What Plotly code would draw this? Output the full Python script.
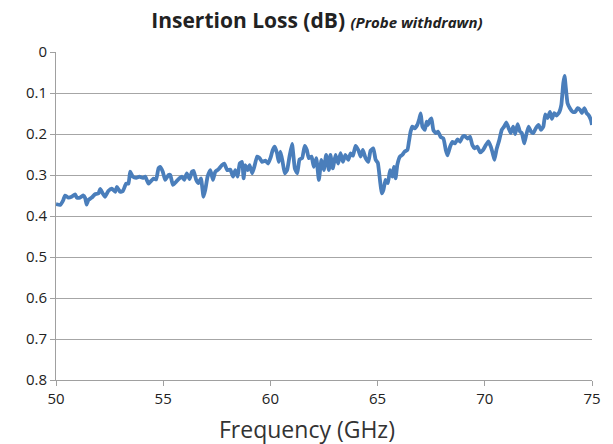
import plotly.graph_objects as go

freq_ghz = [
    50.00, 50.19, 50.34, 50.42, 50.57, 50.73, 50.89, 50.97, 51.12, 51.28, 51.36, 51.43, 51.51, 51.67,
    51.82, 51.98, 52.06, 52.18, 52.29, 52.44, 52.60, 52.76, 52.84, 52.99, 53.12, 53.27, 53.38, 53.46,
    53.58, 53.74, 53.89, 54.05, 54.16, 54.31, 54.39, 54.55, 54.67, 54.78,
    54.86, 54.98, 55.09, 55.25, 55.33, 55.45, 55.61, 55.76, 55.87, 55.98, 56.10, 56.23, 56.34, 56.42,
    56.54, 56.65, 56.76, 56.88, 56.96, 57.07, 57.20, 57.32, 57.43, 57.58, 57.74, 57.85, 57.98, 58.13,
    58.26, 58.36, 58.47, 58.57, 58.68, 58.75, 58.83, 58.94, 59.03, 59.15, 59.25, 59.38, 59.50, 59.61,
    59.77, 59.89, 60.00, 60.11, 60.20, 60.31, 60.39, 60.47, 60.57, 60.67, 60.78, 60.89, 61.01, 61.14,
    61.25, 61.36, 61.48, 61.60, 61.70, 61.79, 61.92, 62.02, 62.14, 62.26, 62.38, 62.49, 62.60, 62.73,
    62.80, 62.91, 63.04, 63.16, 63.27, 63.38, 63.50, 63.63, 63.74, 63.85, 63.97, 64.10, 64.21, 64.31,
    64.44, 64.57, 64.67, 64.80, 64.91, 65.01, 65.11, 65.19, 65.27, 65.37, 65.48, 65.58, 65.69, 65.76,
    65.84, 65.92, 66.04, 66.15, 66.26, 66.39, 66.46, 66.54, 66.62, 66.73, 66.85, 66.95, 67.01, 67.09,
    67.20, 67.29, 67.35, 67.44, 67.51, 67.60, 67.71, 67.82, 67.94, 68.07, 68.18, 68.26, 68.38, 68.49,
    68.60, 68.73, 68.85, 68.96, 69.07, 69.19, 69.31, 69.42, 69.53, 69.66, 69.78, 69.92, 70.05, 70.17,
    70.28, 70.39, 70.45, 70.55, 70.67, 70.79, 70.90, 71.01, 71.11, 71.21, 71.32, 71.42, 71.53, 71.64,
    71.73, 71.84, 71.92, 72.04, 72.15, 72.26, 72.38, 72.51, 72.62, 72.73, 72.82, 72.93, 73.04, 73.13,
    73.24, 73.35, 73.48, 73.57, 73.66, 73.72, 73.78, 73.86, 73.97, 74.10, 74.22, 74.33, 74.44, 74.53,
    74.64, 74.75, 74.84, 74.95, 75.00,
]

insertion_loss_db = [
    0.371, 0.373, 0.361, 0.350, 0.355, 0.353, 0.347, 0.355, 0.355, 0.350, 0.356, 0.372, 0.361, 0.355,
    0.347, 0.345, 0.334, 0.345, 0.353, 0.339, 0.333, 0.341, 0.329, 0.341, 0.339, 0.321, 0.321, 0.292,
    0.304, 0.307, 0.304, 0.307, 0.304, 0.321, 0.317, 0.309, 0.311, 0.284,
    0.280, 0.292, 0.312, 0.300, 0.300, 0.324, 0.316, 0.308, 0.304, 0.312, 0.296, 0.310, 0.292, 0.290,
    0.312, 0.320, 0.308, 0.353, 0.337, 0.304, 0.288, 0.312, 0.292, 0.286, 0.276, 0.272, 0.288, 0.287,
    0.304, 0.288, 0.304, 0.272, 0.268, 0.308, 0.276, 0.288, 0.276, 0.296, 0.280, 0.255, 0.259, 0.268,
    0.265, 0.272, 0.259, 0.239, 0.231, 0.247, 0.268, 0.243, 0.268, 0.296, 0.288, 0.255, 0.224, 0.284,
    0.296, 0.262, 0.259, 0.229, 0.239, 0.259, 0.255, 0.280, 0.259, 0.312, 0.263, 0.288, 0.251, 0.288,
    0.251, 0.284, 0.251, 0.272, 0.247, 0.268, 0.251, 0.263, 0.247, 0.253, 0.229, 0.239, 0.255, 0.239,
    0.259, 0.268, 0.241, 0.235, 0.263, 0.270, 0.312, 0.345, 0.337, 0.312, 0.320, 0.288, 0.304, 0.280,
    0.308, 0.275, 0.255, 0.251, 0.243, 0.239, 0.219, 0.194, 0.182, 0.186, 0.178, 0.162, 0.150, 0.182,
    0.190, 0.170, 0.178, 0.166, 0.162, 0.190, 0.198, 0.194, 0.207, 0.211, 0.239, 0.252, 0.231, 0.219,
    0.223, 0.213, 0.219, 0.207, 0.205, 0.211, 0.207, 0.227, 0.235, 0.231, 0.245, 0.239, 0.227, 0.218,
    0.231, 0.251, 0.263, 0.237, 0.216, 0.190, 0.182, 0.172, 0.186, 0.198, 0.182, 0.200, 0.176, 0.194,
    0.198, 0.223, 0.205, 0.182, 0.194, 0.198, 0.186, 0.178, 0.190, 0.182, 0.152, 0.161, 0.146, 0.163,
    0.149, 0.155, 0.146, 0.129, 0.076, 0.058, 0.088, 0.125, 0.137, 0.146, 0.146, 0.137, 0.141, 0.149,
    0.137, 0.149, 0.154, 0.166, 0.178,
]

x_ticks = [50, 55, 60, 65, 70, 75]
y_ticks = [0, 0.1, 0.2, 0.3, 0.4, 0.5, 0.6, 0.7, 0.8]
y_tick_labels = ["0", "0.1", "0.2", "0.3", "0.4", "0.5", "0.6", "0.7", "0.8"]

fig = go.Figure()
fig.add_trace(go.Scatter(
    x=freq_ghz, y=insertion_loss_db, mode="lines",
    line=dict(color="#4a7ebb", width=3.8, shape="spline", smoothing=0.4),
    showlegend=False, hoverinfo="x+y",
))

font_family = "Open Sans, Noto Sans, sans-serif"
fig.update_layout(
    width=613, height=444,
    margin=dict(l=56, r=21, t=52, b=64),
    paper_bgcolor="white", plot_bgcolor="white",
    font=dict(family=font_family, color="#222222", size=15),
    title=dict(
        text="<b>Insertion Loss (dB)</b> <b><i><span style='font-size:15px'>(Probe withdrawn)</span></i></b>",
        x=0.517, xanchor="center", y=0.953, yanchor="middle",
        font=dict(family=font_family, size=21, color="#222222"),
    ),
    xaxis=dict(
        range=[50, 75], tickvals=x_ticks, ticks="outside", ticklen=5, tickcolor="#a0a0a0",
        showgrid=False, showline=True, linecolor="#a0a0a0", linewidth=1, zeroline=False,
        tickfont=dict(size=15, color="#222222"),
    ),
    yaxis=dict(
        range=[0.8, 0], tickvals=y_ticks, ticktext=y_tick_labels, ticks="outside", ticklen=5,
        tickcolor="#a0a0a0", showgrid=True, gridcolor="#a6a6a6", gridwidth=1,
        showline=True, linecolor="#a0a0a0", linewidth=1, zeroline=False,
        tickfont=dict(size=15, color="#222222"),
    ),
    annotations=[dict(
        text="Frequency (GHz)", xref="paper", yref="paper", x=0.468, y=0,
        xanchor="center", yanchor="middle", yshift=-49, showarrow=False,
        font=dict(family=font_family, size=23, color="#333333"),
    )],
)

fig.write_html("out.html", config={"displayModeBar": False},
               post_script="document.body.style.margin='0';")
